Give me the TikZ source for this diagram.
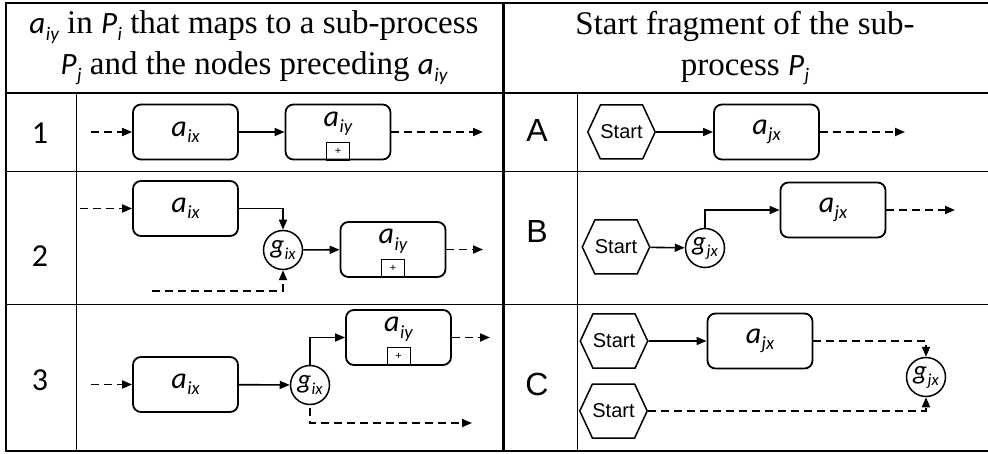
\documentclass[tikz,border=0pt]{standalone}
\usepackage{fontspec}
\setmainfont{Liberation Serif}
\newfontfamily\carl{Carlito}
\newfontfamily\arialf{Liberation Sans}
\usetikzlibrary{arrows.meta,shapes.symbols}
\tikzset{>={Triangle[length=10pt,width=8pt]}}
\newcommand{\sym}[2]{{\carl\itshape #1\kern0.5pt\raisebox{-0.45ex}{\scalebox{0.62}{#2}}}}
\newcommand{\hsym}[2]{{\fontsize{31}{31}\selectfont\sym{#1}{#2}}}

\begin{document}
\begin{tikzpicture}[x=1pt,y=-1pt,
    task/.style={draw, line width=1.8pt, rounded corners=8pt, minimum width=105pt, minimum height=55pt, inner sep=0pt, font=\fontsize{30}{30}\selectfont},
    tasklab/.style={inner sep=0pt, font=\fontsize{30}{30}\selectfont},
    gate/.style={draw, line width=1.5pt, circle, minimum size=39pt, inner sep=0pt, font=\fontsize{27}{27}\selectfont},
    start/.style={draw, line width=1.5pt, signal, signal to=east and west, signal pointer angle=130, minimum width=65pt, minimum height=54pt, inner sep=0pt, font=\arialf\fontsize{20}{20}\selectfont},
    plus/.style={draw, line width=0.8pt, minimum width=23pt, minimum height=18pt, inner sep=0pt, font=\arialf\fontsize{11}{11}\selectfont},
    flow/.style={->, line width=1.6pt},
    msg/.style={->, line width=1.8pt, dash pattern=on 8pt off 5pt},
    head/.style={align=center, font=\fontsize{33}{41}\selectfont},
    rowlab/.style={font=\carl\fontsize{32}{32}\selectfont},
    collab/.style={font=\arialf\fontsize{32}{32}\selectfont},
]
    \useasboundingbox (0,0) rectangle (988,454);
    % table
    \draw[line width=2.5pt] (5,3) -- (988,3);
    \draw[line width=2.5pt] (5,451) -- (988,451);
    \draw[line width=2.5pt] (6,3) -- (6,451);
    \draw[line width=3pt] (503,3) -- (503,451);
    \draw[line width=1.2pt] (5,93) -- (988,93);
    \foreach \y in {172,305}
    \draw[line width=1pt] (5,\y) -- (988,\y);
    \foreach \x in {76,577}
    \draw[line width=1pt] (\x,93) -- (\x,451);
    \node[head] (hl) at (254,48) {\hsym{a}{iy} in \hsym{P}{i} that maps to a sub-process\\\hsym{P}{j} and the nodes preceding \hsym{a}{iy}};
    \node[head] (hr) at (745,48) {Start fragment of the sub-\\process \hsym{P}{j}};
    \node[rowlab] (r1) at (40,133) {1};
    \node[rowlab] (r2) at (40,256) {2};
    \node[rowlab] (r3) at (40,380) {3};
    \node[collab] (cA) at (537,130) {A};
    \node[collab] (cB) at (537,231) {B};
    \node[collab] (cC) at (537,384) {C};
    % row 1
    \coordinate (in1) at (91,132);
    \coordinate (out1) at (483,132);
    \node[task] (ix1) at (185.5,132) {\sym{a}{ix}};
    \node[task] (iy1) at (338,132) {};
    \node[tasklab] (iy1t) at ([yshift=-20pt]iy1.north) {\sym{a}{iy}};
    \node[plus, anchor=south] (pl1) at (iy1.south) {+};
    \draw[msg] (in1) -- (ix1);
    \draw[flow] (ix1) -- (iy1);
    \draw[msg] (iy1) -- (out1);
    % row 2
    \coordinate (in2) at (80,208.5);
    \coordinate (out2) at (483,249.5);
    \coordinate (low2) at (152,291);
    \node[task] (ix2) at (185.5,208.5) {\sym{a}{ix}};
    \node[gate] (g2) at (283,250) {\sym{g}{ix}};
    \node[task] (iy2) at (393,249.5) {};
    \node[tasklab] (iy2t) at ([yshift=-20pt]iy2.north) {\sym{a}{iy}};
    \node[plus, anchor=south] (pl2) at (iy2.south) {+};
    \draw[msg] (in2) -- (ix2);
    \draw[flow] (ix2.east) -| (g2.north);
    \draw[flow] (g2) -- (iy2);
    \draw[msg] (iy2) -- (out2);
    \draw[msg] (low2) -| (g2.south);
    % row 3
    \coordinate (in3) at (91,384.5);
    \coordinate (out3) at (490,337.5);
    \coordinate (low3) at (472,423);
    \node[task] (ix3) at (185.5,384.5) {\sym{a}{ix}};
    \node[gate] (g3) at (310,385) {\sym{g}{ix}};
    \node[task] (iy3) at (398.5,337.5) {};
    \node[tasklab] (iy3t) at ([yshift=-20pt]iy3.north) {\sym{a}{iy}};
    \node[plus, anchor=south] (pl3) at (iy3.south) {+};
    \draw[msg] (in3) -- (ix3);
    \draw[flow] (ix3) -- (g3);
    \draw[flow] (g3.north) |- (iy3.west);
    \draw[msg] (iy3) -- (out3);
    \draw[msg] ([yshift=-3pt]g3.south) |- (low3);
    % row A
    \coordinate (outA) at (905,132);
    \node[start] (sA) at (621.5,132) {Start};
    \node[task] (jxA) at (766.5,132) {\sym{a}{jx}};
    \draw[flow] (sA) -- (jxA);
    \draw[msg] (jxA) -- (outA);
    % row B
    \coordinate (outB) at (955,210);
    \node[start] (sB) at (616,247) {Start};
    \node[gate] (gB) at (705,248) {\sym{g}{jx}};
    \node[task] (jxB) at (833,210) {\sym{a}{jx}};
    \draw[flow] (sB) -- (gB);
    \draw[flow] (gB.north) |- (jxB.west);
    \draw[msg] (jxB) -- (outB);
    % row C
    \node[start] (sC1) at (614,341) {Start};
    \node[task] (jxC) at (760,341) {\sym{a}{jx}};
    \node[gate] (gC) at (926,377) {\sym{g}{jx}};
    \node[start] (sC2) at (613.5,411) {Start};
    \draw[flow] (sC1) -- (jxC);
    \draw[msg] (jxC.east) -| (gC.north);
    \draw[msg] (sC2.east) -| (gC.south);
\end{tikzpicture}
\end{document}
